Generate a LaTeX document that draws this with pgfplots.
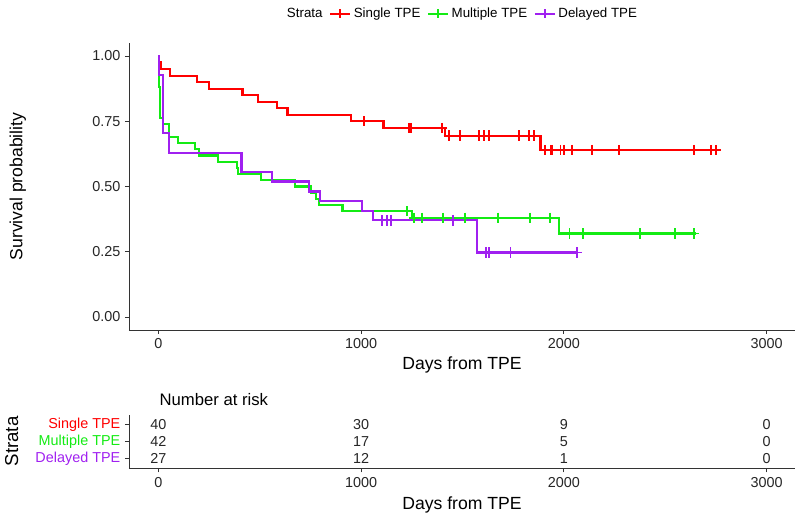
\documentclass[border=0pt]{standalone}
\usepackage{pgfplots}
\pgfplotsset{compat=1.18}
\usepackage{fontspec}
\setmainfont{Liberation Sans}
\definecolor{kmred}{RGB}{255,0,0}
\definecolor{kmgreen}{RGB}{20,235,20}
\definecolor{kmpurple}{RGB}{160,32,240}
\pgfplotsset{
  kmaxis/.style={
    scale only axis, anchor=south west,
    xmin=-145, xmax=3140,
    axis x line*=bottom, axis y line*=left,
    axis line style={-, line width=0.6pt, black!80},
    tick align=outside, major tick length=3pt,
    tick style={black!80, line width=0.6pt},
    xtick={0,1000,2000,3000},
    xticklabel style={/pgf/number format/1000 sep={}},
    /pgf/number format/assume math mode=true,
    ticklabel style={font=\fontsize{10.8}{12}\selectfont, text=black!85},
    label style={font=\fontsize{13.2}{15}\selectfont},
  },
  kmline/.style={const plot, line width=1.6pt, mark=none, line join=miter, line cap=butt},
  kmcens/.style={only marks, mark=+, mark size=3.9pt, mark options={line width=1.4pt, solid}},
}
\begin{document}
\begin{tikzpicture}[x=1pt,y=1pt]
\path (0,0) rectangle (600,388.5);
\begin{axis}[kmaxis,
  at={(96.75pt,141pt)}, width=499.5pt, height=215.25pt,
  ymin=-0.05, ymax=1.05,
  ytick={0,0.25,0.5,0.75,1},
  yticklabel style={/pgf/number format/fixed, /pgf/number format/fixed zerofill, /pgf/number format/precision=2},
  xlabel={Days from TPE}, ylabel={Survival probability},
  xlabel style={at={(axis description cs:0.5,-0.122)}, anchor=center},
  ylabel style={at={(axis description cs:-0.167,0.5)}, anchor=center},
  legend columns=-1,
  legend style={draw=none, fill=none, at={(axis description cs:0.5,1.102)}, anchor=center,
    font=\fontsize{10}{12}\selectfont, /tikz/every even column/.append style={column sep=3pt}},
  legend image code/.code={\draw[#1, mark repeat=2, mark phase=2] plot coordinates {(0pt,0pt) (7.5pt,0pt) (15pt,0pt)};},
]
\addlegendimage{empty legend}\addlegendentry{Strata}
\addlegendimage{kmred, line width=1.4pt, mark=+, mark size=3.3pt}\addlegendentry{Single TPE}
\addlegendimage{kmgreen, line width=1.4pt, mark=+, mark size=3.3pt}\addlegendentry{Multiple TPE}
\addlegendimage{kmpurple, line width=1.4pt, mark=+, mark size=3.3pt}\addlegendentry{Delayed TPE}
% censoring marks
\addplot[kmcens, kmred, forget plot] coordinates {
(1013,0.75) (1236,0.724) (1244,0.724) (1397,0.724)
(1433,0.695) (1487,0.695) (1581,0.695) (1606,0.695) (1630,0.695) (1778,0.695) (1827,0.695) (1852,0.695)
(1909,0.64) (1934,0.64) (1942,0.64) (1983,0.64) (1999,0.64) (2041,0.64) (2139,0.64) (2270,0.64) (2643,0.64) (2727,0.64) (2751,0.64)};
\addplot[kmcens, kmgreen, forget plot] coordinates {
(1225,0.405) (1261,0.38) (1302,0.38) (1405,0.38) (1512,0.38) (1676,0.38) (1835,0.38) (1931,0.38)
(2028,0.32) (2095,0.32) (2377,0.32) (2550,0.32) (2640,0.32)};
\addplot[kmcens, kmpurple, forget plot] coordinates {
(1105,0.37) (1126,0.37) (1149,0.37) (1455,0.37) (1614,0.247) (1630,0.247) (1737,0.247) (2066,0.247)};
% Single TPE
\addplot[kmline, kmred, forget plot] coordinates {
(0,1) (5,0.975) (12,0.95) (59,0.925) (189,0.9) (248,0.875) (415,0.85) (492,0.825) (584,0.8) (637,0.775) (949,0.75) (1110,0.724) (1412,0.695) (1885,0.64) (2771,0.64)};
% Multiple TPE
\addplot[kmline, kmgreen, forget plot] coordinates {
(0,1) (2,0.952) (5,0.881) (9,0.762) (24,0.738) (51,0.69) (95,0.667) (182,0.643) (202,0.619) (292,0.595) (386,0.571) (394,0.548) (505,0.524) (673,0.5) (752,0.476) (776,0.452) (794,0.429) (908,0.405) (1249,0.38) (1978,0.32) (2650,0.32)};
% Delayed TPE
\addplot[kmline, kmpurple, forget plot] coordinates {
(0,1) (5,0.926) (24,0.704) (51,0.63) (410,0.556) (560,0.519) (744,0.481) (798,0.444) (1003,0.407) (1060,0.37) (1573,0.247) (2066,0.247)};
\end{axis}
\begin{axis}[kmaxis,
  at={(96.75pt,37.125pt)}, width=499.5pt, height=40.5pt,
  ymin=0.4, ymax=3.6, ytick={1,2,3},
  yticklabels={\textcolor{kmpurple}{Delayed TPE}, \textcolor{kmgreen}{Multiple TPE}, \textcolor{kmred}{Single TPE}},
  xlabel={Days from TPE}, ylabel={Strata},
  xlabel style={at={(axis description cs:0.5,-0.676)}, anchor=center},
  ylabel style={at={(axis description cs:-0.176,0.5)}, anchor=center, font=\fontsize{14}{16}\selectfont},
  title={Number at risk}, every axis title shift=0pt,
  title style={at={(axis description cs:0.039,1.269)}, anchor=west, font=\fontsize{12.5}{15}\selectfont},
]
\addplot[draw=none, mark=none, nodes near coords, point meta=explicit symbolic,
  nodes near coords style={anchor=center, font=\fontsize{10.8}{12}\selectfont, text=black!85}]
  table[meta=lab, row sep=\\] {
x y lab\\
0 3 40\\ 1000 3 30\\ 2000 3 9\\ 3000 3 0\\
0 2 42\\ 1000 2 17\\ 2000 2 5\\ 3000 2 0\\
0 1 27\\ 1000 1 12\\ 2000 1 1\\ 3000 1 0\\
};
\end{axis}
\end{tikzpicture}
\end{document}
